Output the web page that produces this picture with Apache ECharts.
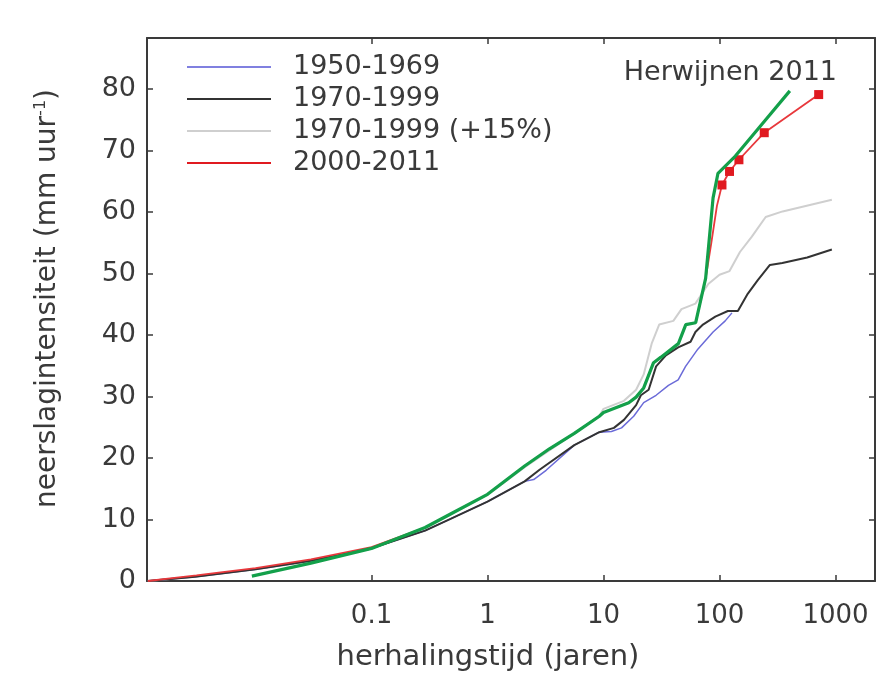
<!DOCTYPE html>
<html>
<head>
<meta charset="utf-8">
<style>
  html, body { margin: 0; padding: 0; background: #ffffff; }
  #chart { width: 882px; height: 679px; }
</style>
<script src="https://cdn.jsdelivr.net/npm/echarts@6/dist/echarts.min.js"></script>
</head>
<body>
<div id="chart"></div>
<script>
// Return period (years) and rainfall intensity (mm/h) per period
const blueT = [0.00118, 0.003, 0.01, 0.03, 0.1, 0.29, 0.48, 1, 2.09, 2.5, 3.2, 5.6, 9.2, 11.7, 14.3, 18.2, 22.2, 28.4, 36.3, 44, 51, 65, 88, 112, 128];
const blueV = [0, 0.7, 1.9, 3.3, 5.3, 8.2, 10.1, 12.9, 16.2, 16.5, 18.0, 22.1, 24.2, 24.3, 24.9, 26.8, 29, 30.2, 31.8, 32.7, 34.9, 37.7, 40.5, 42.3, 43.6];

const blackT = [0.00118, 0.003, 0.01, 0.03, 0.1, 0.29, 0.48, 1, 2.09, 2.81, 5.6, 9.2, 12.3, 15, 19.1, 21, 24.5, 28.4, 34.5, 44, 56.3, 62, 72, 92, 118, 144, 175, 213, 272, 348, 570, 930];
const blackV = [0, 0.7, 1.9, 3.3, 5.3, 8.2, 10.1, 12.9, 16.2, 18.1, 22.1, 24.2, 24.9, 26.2, 28.6, 30.2, 31.1, 34.9, 36.7, 38, 38.9, 40.5, 41.7, 43, 43.9, 43.9, 46.7, 48.9, 51.4, 51.7, 52.6, 53.9];

const grayT = [0.00118, 0.003, 0.01, 0.03, 0.1, 0.29, 0.48, 1, 2.09, 5.6, 9.2, 10, 15, 19.1, 22.2, 26, 30.2, 40, 47, 62, 80, 100, 122, 150, 190, 250, 350, 930];
const grayV = [0, 0.7, 1.9, 3.2, 5.3, 8.6, 10.8, 14.0, 18.5, 24.0, 26.8, 28.0, 29.3, 31.1, 33.6, 38.6, 41.7, 42.3, 44.2, 45.1, 48.3, 49.8, 50.4, 53.5, 56, 59.2, 60.1, 62];

const redT = [0.00118, 0.002, 0.0031, 0.005, 0.01, 0.03, 0.1, 0.29, 0.48, 1, 2.09, 3.42, 5.6, 9.2, 10, 16.5, 19.1, 22.2, 27, 31.3, 44.2, 51.2, 62.3, 76, 85, 95, 105, 122, 147, 243, 716];
const redV = [0, 0.5, 0.9, 1.4, 2.1, 3.5, 5.5, 8.7, 10.9, 14.1, 18.7, 21.5, 24, 26.8, 27.4, 29, 29.9, 31.4, 35.5, 36.4, 38.6, 41.7, 42, 49.2, 55, 61, 64.4, 66.6, 68.5, 72.9, 79.1];
// points from this return period on carry a square marker
const redMarkFrom = 100;

const greenT = [0.0093, 0.03, 0.1, 0.29, 0.48, 1, 2.09, 3.42, 5.6, 9.2, 10, 16.5, 19.1, 22.2, 27, 31.3, 44.2, 51.2, 62.3, 75.9, 88, 97, 137, 235, 404];
const greenV = [0.8, 2.9, 5.3, 8.7, 10.9, 14.1, 18.7, 21.5, 24, 26.8, 27.4, 29, 29.9, 31.4, 35.5, 36.4, 38.6, 41.7, 42, 49.2, 62.3, 66.3, 69.1, 74.4, 79.7];

const xTickValues = [0.1, 1, 10, 100, 1000];
const yTickValues = [0, 10, 20, 30, 40, 50, 60, 70, 80];

const FONT = '"DejaVu Sans", "Liberation Sans", sans-serif';
const TEXT = '#3a3a3a';
const FRAME = '#3a3a3a';

function pairs(ts, vs) { return ts.map((t, i) => [t, vs[i]]); }

const xRange = { min: 0.00116, max: 2190 };
const yRange = { min: 0, max: 88.3 };

function xAxisBase(pos) {
  return {
    type: 'log', logBase: 10, position: pos,
    min: xRange.min, max: xRange.max,
    axisLine: { show: true, onZero: false, lineStyle: { color: FRAME, width: 2 } },
    axisTick: { show: true, inside: true, length: 6, customValues: xTickValues, lineStyle: { color: FRAME, width: 1.5 } },
    axisLabel: {
      show: pos === 'bottom', customValues: xTickValues, margin: 22,
      fontFamily: FONT, fontSize: 26, color: TEXT,
      formatter: v => String(Math.round(v * 1000) / 1000)
    },
    minorTick: { show: false },
    splitLine: { show: false }
  };
}

function yAxisBase(pos) {
  return {
    type: 'value', position: pos,
    min: yRange.min, max: yRange.max,
    axisLine: { show: true, onZero: false, lineStyle: { color: FRAME, width: 2 } },
    axisTick: { show: true, inside: true, length: 6, customValues: yTickValues, lineStyle: { color: FRAME, width: 1.5 } },
    axisLabel: {
      show: pos === 'left', customValues: yTickValues, margin: 11,
      fontFamily: FONT, fontSize: 27, color: TEXT
    },
    splitLine: { show: false }
  };
}

const chart = echarts.init(document.getElementById('chart'), null, { renderer: 'canvas' });

const xBottom = xAxisBase('bottom');
xBottom.name = 'herhalingstijd (jaren)';
xBottom.nameLocation = 'middle';
xBottom.nameGap = 62;
xBottom.nameTextStyle = { fontFamily: FONT, fontSize: 29, color: TEXT, padding: [0, 46, 0, 0] };

const yLeft = yAxisBase('left');
yLeft.name = '{a|neerslagintensiteit (mm uur}{s|-1}{a|)}';
yLeft.nameLocation = 'middle';
yLeft.nameGap = 84;
yLeft.nameTextStyle = {
  fontFamily: FONT, color: TEXT, padding: [0, 0, 0, 22],
  rich: {
    a: { fontFamily: FONT, fontSize: 28, color: TEXT },
    s: { fontFamily: FONT, fontSize: 16, color: TEXT, padding: [0, 0, 14, 0] }
  }
};

chart.setOption({
  backgroundColor: '#ffffff',
  animation: false,
  title: {
    text: 'Herwijnen 2011',
    right: 40, top: 54,
    textStyle: { fontFamily: FONT, fontSize: 27, fontWeight: 'normal', color: TEXT }
  },
  legend: {
    data: ['1950-1969', '1970-1999', '1970-1999 (+15%)', '2000-2011'],
    orient: 'vertical',
    left: 182, top: 48,
    icon: 'rect',
    itemWidth: 84, itemHeight: 2, itemGap: 4,
    textStyle: { fontFamily: FONT, fontSize: 27, color: TEXT, lineHeight: 28, padding: [0, 0, 0, 17] },
    selectedMode: false
  },
  grid: { left: 147, right: 7, top: 38, bottom: 98, containLabel: false },
  xAxis: [xBottom, xAxisBase('top')],
  yAxis: [yLeft, yAxisBase('right')],
  series: [
    {
      name: '1970-1999 (+15%)', type: 'line', data: pairs(grayT, grayV),
      showSymbol: false, symbol: 'none',
      lineStyle: { color: '#cfcfcf', width: 2 }, itemStyle: { color: '#cfcfcf' }, z: 2
    },
    {
      name: '1950-1969', type: 'line', data: pairs(blueT, blueV),
      showSymbol: false, symbol: 'none',
      lineStyle: { color: '#6b6bd8', width: 1.5 }, itemStyle: { color: '#8080e0' }, z: 3
    },
    {
      name: '1970-1999', type: 'line', data: pairs(blackT, blackV),
      showSymbol: false, symbol: 'none',
      lineStyle: { color: '#333333', width: 2 }, itemStyle: { color: '#333333' }, z: 4
    },
    {
      name: '2000-2011', type: 'line',
      data: redT.map((t, i) => (t >= redMarkFrom
        ? { value: [t, redV[i]], symbol: 'rect', symbolSize: 9 }
        : { value: [t, redV[i]], symbol: 'none' })),
      symbol: 'none', showSymbol: true,
      lineStyle: { color: '#e8383c', width: 1.8 }, itemStyle: { color: '#e01a20' }, z: 5
    },
    {
      name: 'Herwijnen 2011', type: 'line', data: pairs(greenT, greenV),
      showSymbol: false, symbol: 'none',
      lineStyle: { color: '#13a04a', width: 3.2 }, itemStyle: { color: '#13a04a' }, z: 6
    }
  ]
});
</script>
</body>
</html>
